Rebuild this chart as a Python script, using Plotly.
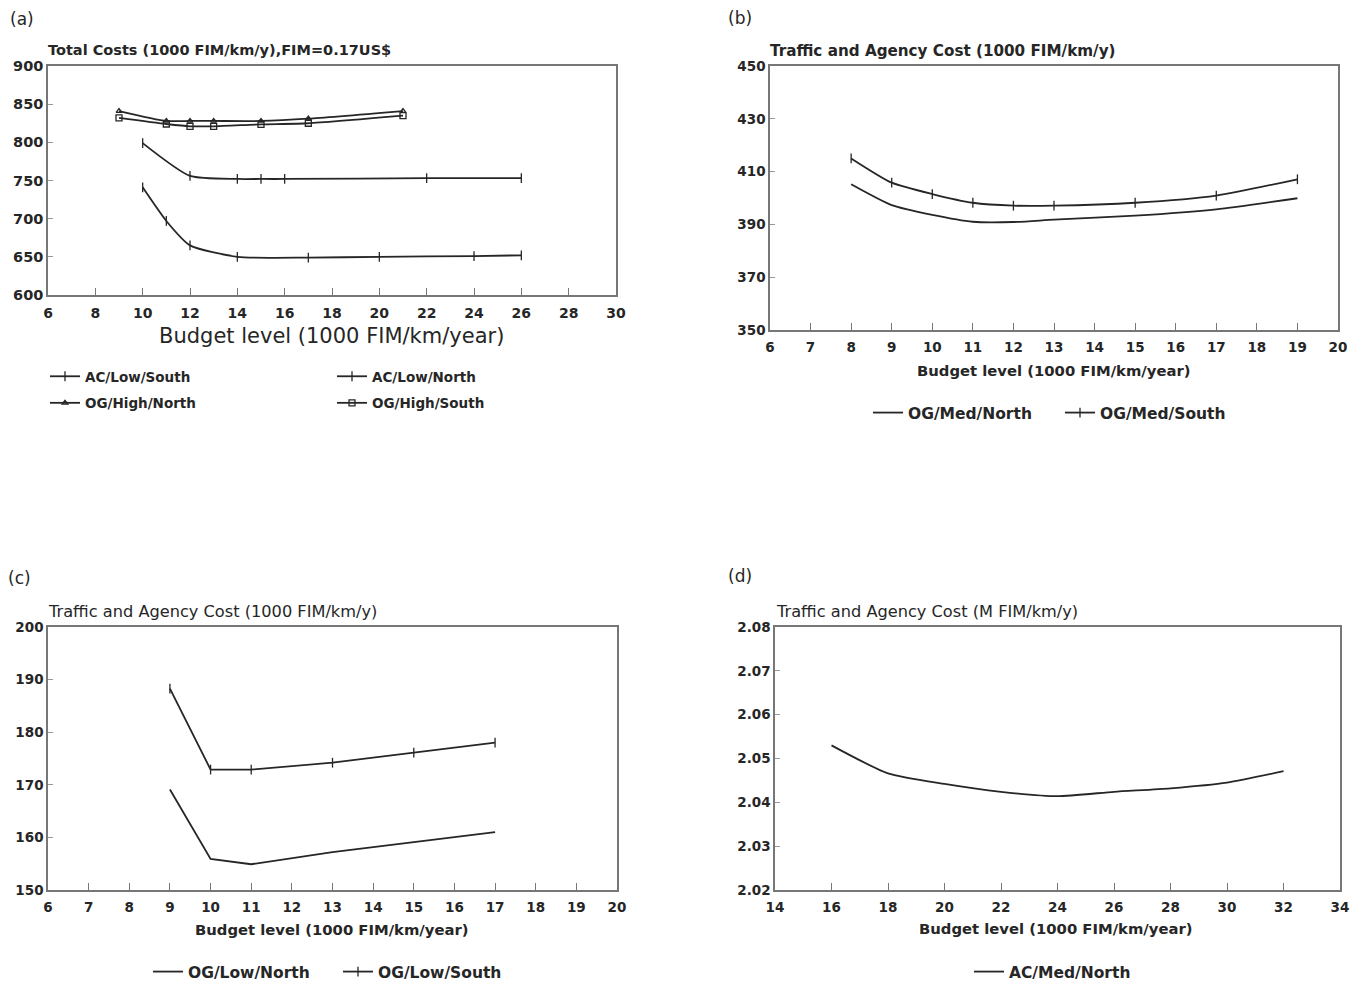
import plotly.graph_objects as go

# ---------------- data ----------------
# Panel (a): Total costs (1000 FIM/km/y)
a_x_ac = [10, 11, 12, 14, 17, 20, 24, 26]
a_ac_low_south = [741, 697, 665, 650, 649, 650, 651, 652]
a_x_ac_n = [10, 12, 14, 15, 16, 22, 26]
a_ac_low_north = [799, 756, 752, 752, 752, 753, 753]
a_x_og = [9, 11, 12, 13, 15, 17, 21]
a_og_high_north = [841, 828, 828, 828, 828, 831, 841]
a_og_high_south = [832, 824, 821, 821, 823.5, 825, 835]

# Panel (b): Traffic and agency cost (1000 FIM/km/y)
b_x = [8, 9, 10, 11, 12, 13, 15, 17, 19]
b_og_med_north = [405.2, 397.3, 393.6, 391.0, 390.9, 391.8, 393.3, 395.7, 399.9]
b_og_med_south = [415.0, 405.8, 401.5, 398.2, 397.1, 397.1, 398.2, 400.9, 407.1]

# Panel (c): Traffic and agency cost (1000 FIM/km/y)
c_x = [9, 10, 11, 13, 15, 17]
c_og_low_north = [169.1, 155.9, 154.9, 157.2, 159.1, 161.0]
c_og_low_south = [188.3, 172.9, 172.9, 174.2, 176.1, 178.0]

# Panel (d): Traffic and agency cost (M FIM/km/y)
d_x = [16, 18, 20, 22, 24, 26, 28, 30, 32]
d_ac_med_north = [2.0530, 2.0466, 2.0442, 2.0424, 2.0414, 2.0424, 2.0432, 2.0445, 2.0471]

# ---------------- layout helpers ----------------
W, H = 1364, 985
INK = "#262626"
FONT = "DejaVu Sans, Liberation Sans, sans-serif"


def px(x):
    return x / W


def py(y):
    return 1 - y / H


fig = go.Figure()


def line_trace(x, y, name, xa, ya, legend, shape="spline", symbol="line-ns-open", msize=7, markers=True):
    return go.Scatter(
        x=x, y=y, name=name, xaxis=xa, yaxis=ya, legend=legend,
        legendgroup=name,
        mode="lines+markers" if markers else "lines",
        line=dict(color=INK, width=1.8, shape=shape, smoothing=0.6),
        marker=dict(symbol=symbol, size=msize, color=INK, line=dict(color=INK, width=1.3)),
    )


# panel (a)
fig.add_trace(line_trace(a_x_ac, a_ac_low_south, "AC/Low/South", "x", "y", "legend"))
fig.add_trace(line_trace(a_x_og, a_og_high_north, "OG/High/North", "x", "y", "legend", symbol="triangle-up-open", msize=5))
fig.add_trace(line_trace(a_x_ac_n, a_ac_low_north, "AC/Low/North", "x", "y", "legend2"))
fig.add_trace(line_trace(a_x_og, a_og_high_south, "OG/High/South", "x", "y", "legend2", symbol="square-open", msize=6))

# panel (b)
fig.add_trace(line_trace(b_x, b_og_med_north, "OG/Med/North", "x2", "y2", "legend3", markers=False))
fig.add_trace(line_trace(b_x, b_og_med_south, "OG/Med/South", "x2", "y2", "legend3"))

# panel (c)
fig.add_trace(line_trace(c_x, c_og_low_north, "OG/Low/North", "x3", "y3", "legend4", shape="linear", markers=False))
fig.add_trace(line_trace(c_x, c_og_low_south, "OG/Low/South", "x3", "y3", "legend4", shape="linear"))

# panel (d)
fig.add_trace(line_trace(d_x, d_ac_med_north, "AC/Med/North", "x4", "y4", "legend5", markers=False))


def xaxis(domain, rng, dtick, anchor, fs=13.5):
    return dict(domain=domain, range=rng, dtick=dtick, tick0=rng[0], anchor=anchor,
                showline=True, linecolor="#777", linewidth=1.5, mirror=True,
                ticks="inside", ticklen=7, tickcolor="#777", tickwidth=1.2,
                showgrid=False, zeroline=False,
                tickfont=dict(family=FONT, size=fs, color=INK, weight="bold"), ticklabelstandoff=4)


def yaxis(domain, rng, dtick, anchor, fmt=None, fs=13.5):
    d = dict(domain=domain, range=rng, dtick=dtick, tick0=rng[0], anchor=anchor,
             showline=True, linecolor="#777", linewidth=1.5, mirror=True,
             ticks="inside", ticklen=5, tickcolor="#999", tickwidth=1,
             showgrid=False, zeroline=False,
             tickfont=dict(family=FONT, size=fs, color=INK, weight="bold"))
    if fmt:
        d["tickformat"] = fmt
    return d


dom_a_x = [px(48), px(616)]
dom_a_y = [py(295), py(66)]
dom_b_x = [px(770), px(1338)]
dom_b_y = [py(330), py(66)]
dom_c_x = [px(48), px(617)]
dom_c_y = [py(890), py(627)]
dom_d_x = [px(775), px(1340)]
dom_d_y = [py(890), py(627)]

legfont = dict(family=FONT, size=15.5, color=INK, weight="bold")
legbase = dict(font=legfont, bgcolor="rgba(0,0,0,0)", itemwidth=30, tracegroupgap=5,
               xanchor="left", yanchor="middle")

fig.update_layout(
    width=W, height=H,
    margin=dict(l=0, r=0, t=0, b=0, autoexpand=False),
    paper_bgcolor="white", plot_bgcolor="white",
    xaxis=xaxis(dom_a_x, [6, 30], 2, "y", fs=14),
    yaxis=yaxis(dom_a_y, [600, 900], 50, "x", fs=14.5),
    xaxis2=xaxis(dom_b_x, [6, 20], 1, "y2"),
    yaxis2=yaxis(dom_b_y, [350, 450], 20, "x2"),
    xaxis3=xaxis(dom_c_x, [6, 20], 1, "y3"),
    yaxis3=yaxis(dom_c_y, [150, 200], 10, "x3"),
    xaxis4=xaxis(dom_d_x, [14, 34], 2, "y4"),
    yaxis4=yaxis(dom_d_y, [2.02, 2.08], 0.01, "x4", fmt=".2f"),
    legend=dict(legbase, x=px(45), y=py(390), orientation="v", tracegroupgap=6, font=dict(legfont, size=13.5)),
    legend2=dict(legbase, x=px(332), y=py(390), orientation="v", tracegroupgap=6, font=dict(legfont, size=13.5)),
    legend3=dict(legbase, x=px(868), y=py(413), orientation="h", entrywidth=147),
    legend4=dict(legbase, x=px(148), y=py(972), orientation="h", entrywidth=145),
    legend5=dict(legbase, x=px(969), y=py(972), orientation="h"),
    showlegend=True,
)


def ann(text, x, y, size, bold=False, xanchor="left"):
    fig.add_annotation(text=(f"<b>{text}</b>" if bold else text), x=px(x), y=py(y), xref="paper", yref="paper",
                       xanchor=xanchor, yanchor="middle", showarrow=False,
                       font=dict(family=FONT, size=size, color=INK))


ann("(a)", 8, 19, 17)
ann("(b)", 726, 18, 17)
ann("(c)", 6, 578, 17)
ann("(d)", 726, 576, 17)

ann("Total Costs (1000 FIM/km/y),FIM=0.17US$", 46, 50, 14.5, bold=True)
ann("Traffic and Agency Cost (1000 FIM/km/y)", 768, 51, 15.2, bold=True)
ann("Traffic and Agency Cost (1000 FIM/km/y)", 46, 611, 16.2)
ann("Traffic and Agency Cost (M FIM/km/y)", 774, 611, 16.2)

ann("Budget level (1000 FIM/km/year)", 331, 336, 21, xanchor="center")
ann("Budget level (1000 FIM/km/year)", 1054, 370, 14.8, bold=True, xanchor="center")
ann("Budget level (1000 FIM/km/year)", 332, 929, 14.8, bold=True, xanchor="center")
ann("Budget level (1000 FIM/km/year)", 1056, 928, 14.8, bold=True, xanchor="center")

fig.write_html("out.html")
